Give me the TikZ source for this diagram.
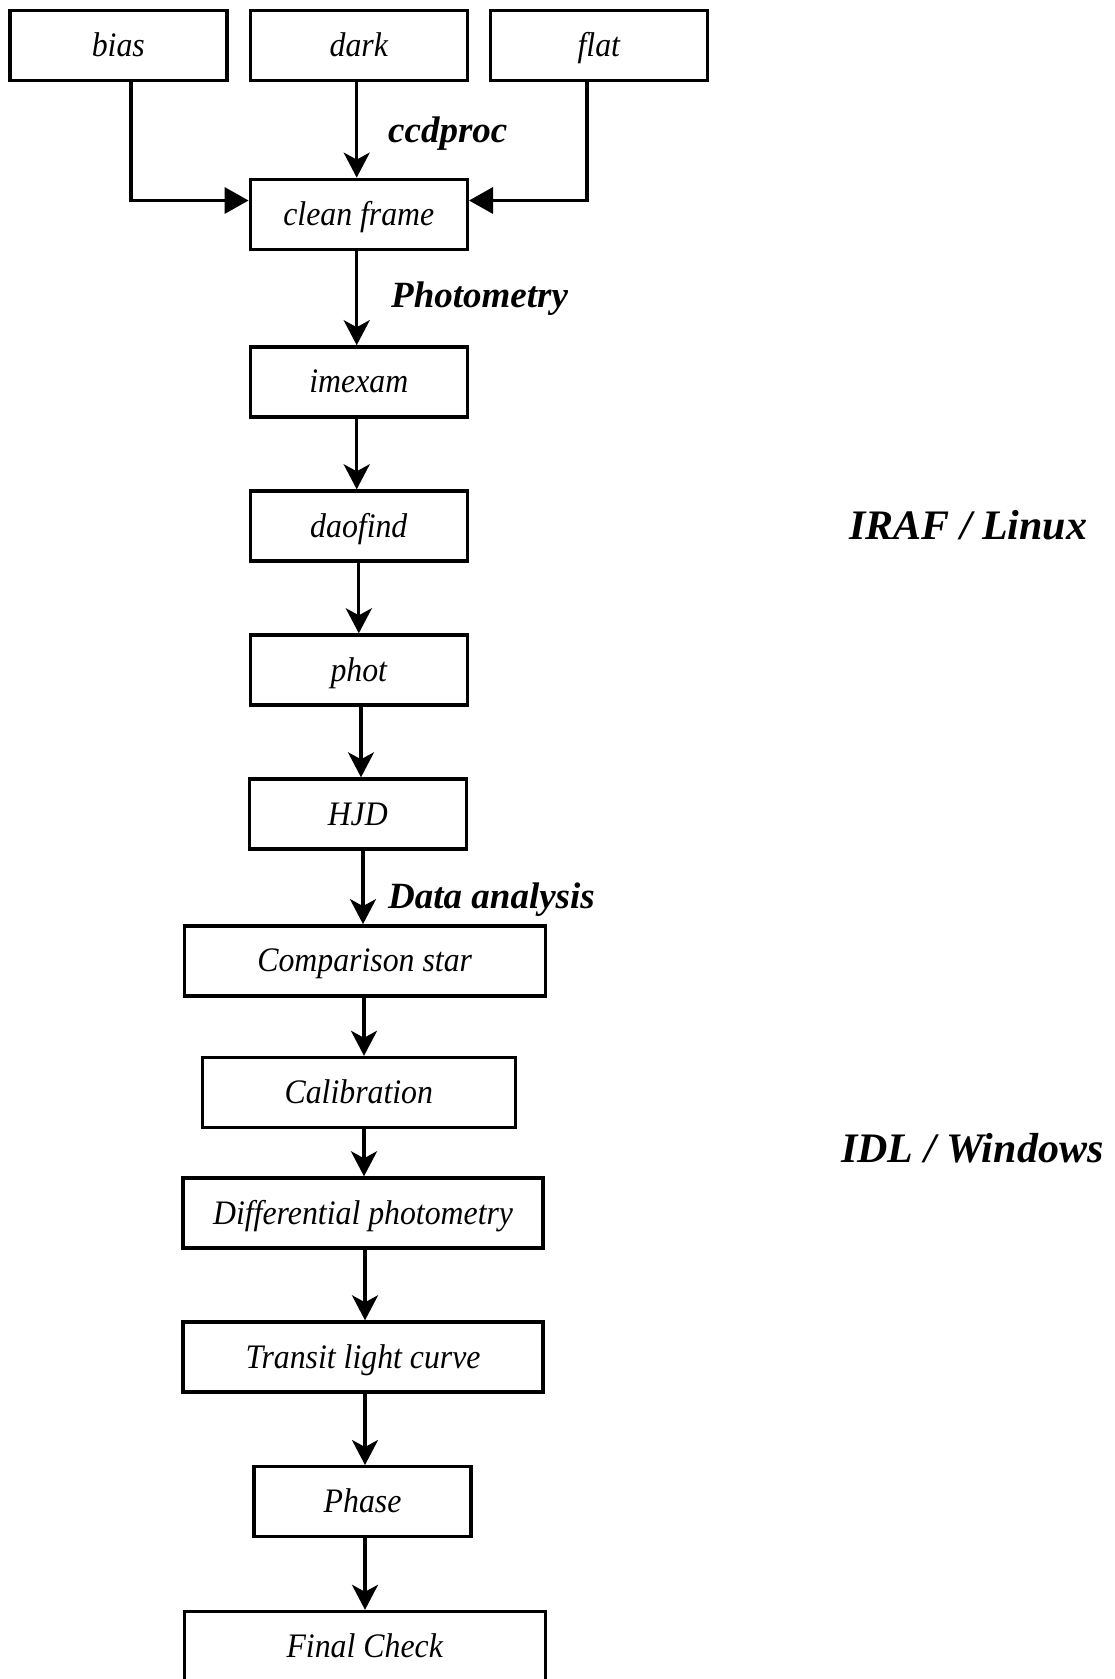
\documentclass[tikz,border=0pt]{standalone}
\usepackage{fontspec}
\setmainfont{Liberation Serif}
\usetikzlibrary{arrows.meta}
\newcommand{\tx}[1]{\scalebox{1}[1.08]{#1}}
\begin{document}
\begin{tikzpicture}[x=1pt,y=-1pt,
  box/.style={draw,line width=3.4pt,inner sep=0pt,minimum height=70pt,
    text height=25pt,text depth=3pt,
    font=\fontsize{31.8}{38}\selectfont\itshape},
  lbl/.style={anchor=base west,inner sep=0pt,font=\fontsize{37}{44}\selectfont\bfseries\itshape},
  big/.style={anchor=base west,inner sep=0pt,font=\fontsize{42}{50}\selectfont\bfseries\itshape},
  arr/.style={line width=3.3pt,-{Stealth[length=25pt,width=26pt,inset=7pt]}},
  farr/.style={line width=3.3pt,-{Triangle[length=24pt,width=26pt]}}]
\useasboundingbox (0,0) rectangle (1115,1679);
\node[box,minimum width=217pt] (bias) at (118.3,45.5) {\tx{bias}};
\node[box,minimum width=217pt] (dark) at (358.8,45.5) {\tx{dark}};
\node[box,minimum width=217pt] (flat) at (598.8,45.5) {\tx{flat}};
\node[box,minimum width=217pt] (clean) at (358.8,214.3) {\tx{clean frame}};
\node[box,minimum width=217pt] (imexam) at (358.8,381.9) {\tx{imexam}};
\node[box,minimum width=217pt] (daofind) at (358.8,526) {\tx{daofind}};
\node[box,minimum width=217pt] (phot) at (358.8,670) {\tx{phot}};
\node[box,minimum width=217pt] (hjd) at (357.8,814) {\tx{HJD}};
\node[box,minimum width=361pt] (comp) at (364.7,960.8) {\tx{Comparison star}};
\node[box,minimum width=313pt] (calib) at (358.8,1092.5) {\tx{Calibration}};
\node[box,minimum width=360pt] (diff) at (363.1,1213) {\tx{Differential photometry}};
\node[box,minimum width=360pt] (transit) at (363.1,1357) {\tx{Transit light curve}};
\node[box,minimum width=217pt] (phase) at (362.6,1501.7) {\tx{Phase}};
\node[box,minimum width=361pt] (final) at (364.7,1646.5) {\tx{Final Check}};

\node[lbl] (l1) at (388,142) {ccdproc};
\node[lbl] (l2) at (391,307) {Photometry};
\node[lbl] (l3) at (388,908) {Data analysis};
\node[big] (l4) at (849,539) {IRAF / Linux};
\node[big] (l5) at (841,1162) {IDL / Windows};

\draw[farr] (bias.south -| 131,0) |- (clean.west |- 0,200.5);
\draw[farr] (flat.south -| 587,0) |- (clean.east |- 0,200.5);
\draw[arr] (dark.south -| 356.7,0) -- (clean.north -| 356.7,0);
\draw[arr] (clean.south -| 356.7,0) -- (imexam.north -| 356.7,0);
\draw[arr] (imexam.south -| 356.7,0) -- (daofind.north -| 356.7,0);
\draw[arr] (daofind.south -| 358.8,0) -- (phot.north -| 358.8,0);
\draw[arr] (phot.south -| 361,0) -- (hjd.north -| 361,0);
\draw[arr] (hjd.south -| 363,0) -- (comp.north -| 363,0);
\draw[arr] (comp.south -| 364,0) -- (calib.north -| 364,0);
\draw[arr] (calib.south -| 364,0) -- (diff.north -| 364,0);
\draw[arr] (diff.south -| 365,0) -- (transit.north -| 365,0);
\draw[arr] (transit.south -| 365,0) -- (phase.north -| 365,0);
\draw[arr] (phase.south -| 365,0) -- (final.north -| 365,0);
\end{tikzpicture}
\end{document}
